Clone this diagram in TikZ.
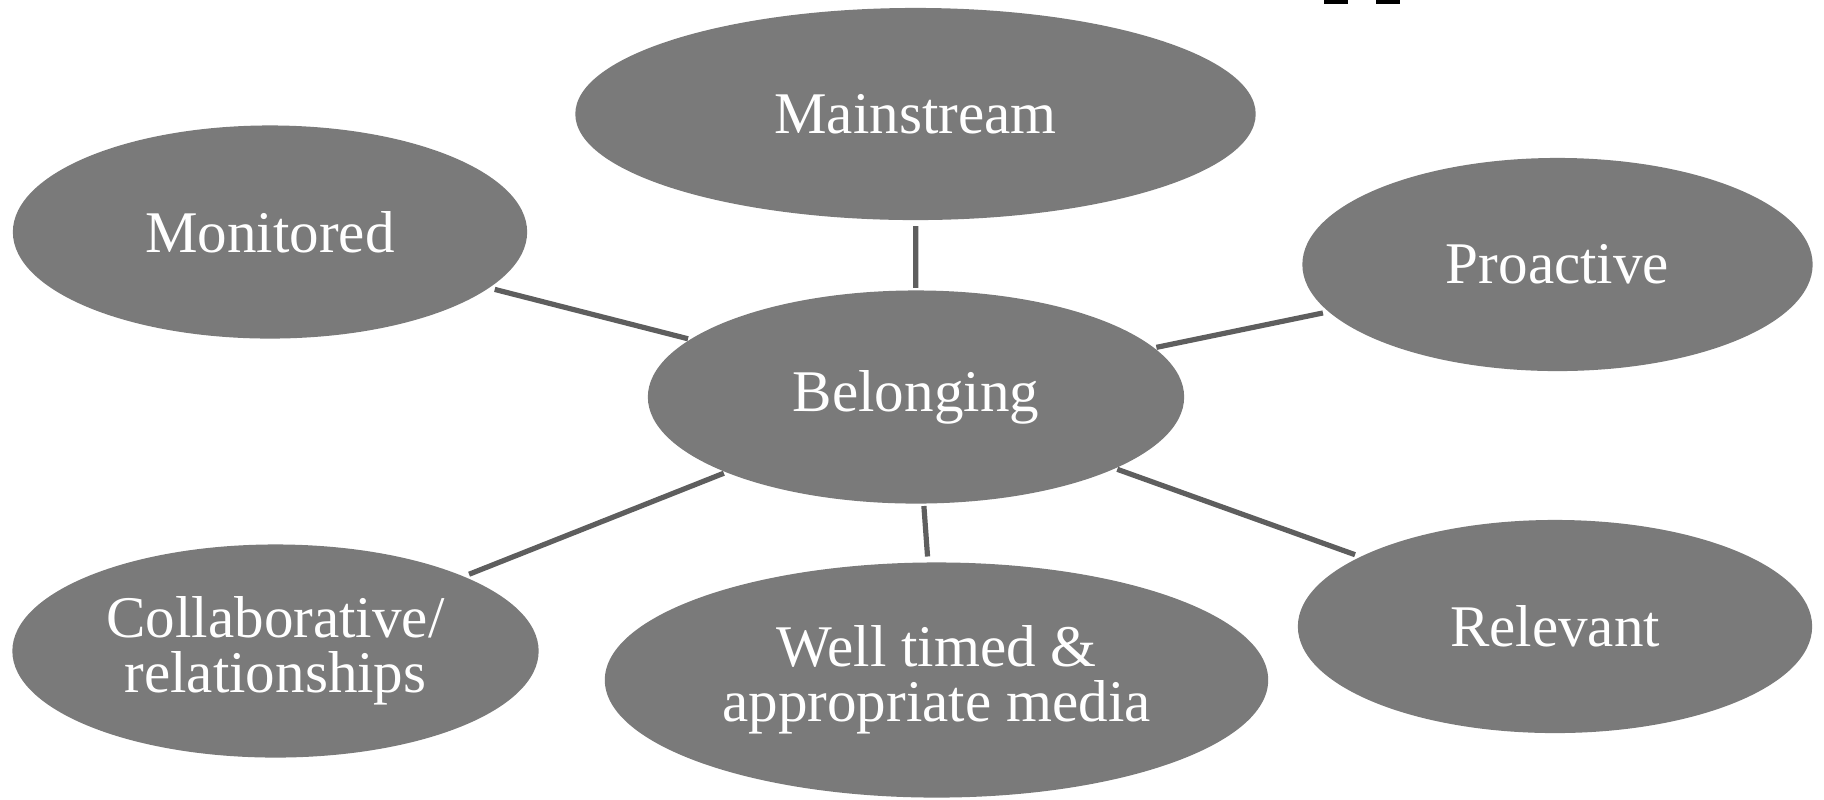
\documentclass[tikz,border=0pt]{standalone}
\usepackage{fontspec}
\setmainfont{Liberation Serif}
\usepackage{xcolor}
\usepackage{tikz}
\usetikzlibrary{shapes.geometric}

\definecolor{bubblegray}{HTML}{7A7A7A}
\definecolor{linkgray}{HTML}{5E5E5E}

\begin{document}
\begin{tikzpicture}[x=0.01cm, y=-0.01cm,
    bubble/.style={ellipse, fill=bubblegray, text=white, inner sep=0pt, outer sep=0pt,
        align=center, font=\fontsize{16.8}{15.6}\selectfont},
    link/.style={draw=linkgray, line width=0.052cm, shorten <=0.06cm, shorten >=0.025cm}]
    \useasboundingbox (0,0) rectangle (1824,799);

    % Centre
    \node[bubble, minimum width=5.36cm, minimum height=2.13cm] (belong) at (916,397) {Belonging};

    % Surrounding ellipses
    \node[bubble, minimum width=6.8cm, minimum height=2.12cm] (main) at (915.5,114) {Mainstream};
    \node[bubble, minimum width=5.14cm, minimum height=2.13cm] (monit) at (270,232) {Monitored};
    \node[bubble, minimum width=5.1cm, minimum height=2.13cm] (proact) at (1557.5,264.5) {Proactive};
    \node[bubble, minimum width=5.26cm, minimum height=2.13cm] (collab) at (275.5,651) {Collaborative/\\relationships};
    \node[bubble, minimum width=6.63cm, minimum height=2.35cm] (timed) at (936.5,680) {Well timed \&\\appropriate media};
    \node[bubble, minimum width=5.14cm, minimum height=2.13cm] (relev) at (1555,626.5) {Relevant};

    % Links to the centre
    \foreach \outer in {main, monit, proact, collab, timed, relev}
        \draw[link] (\outer) -- (belong);

    % Marks cut off at the top edge
    \fill[black] (1324,0) rectangle (1348,4);
    \fill[black] (1376,0) rectangle (1400,4);
\end{tikzpicture}
\end{document}
